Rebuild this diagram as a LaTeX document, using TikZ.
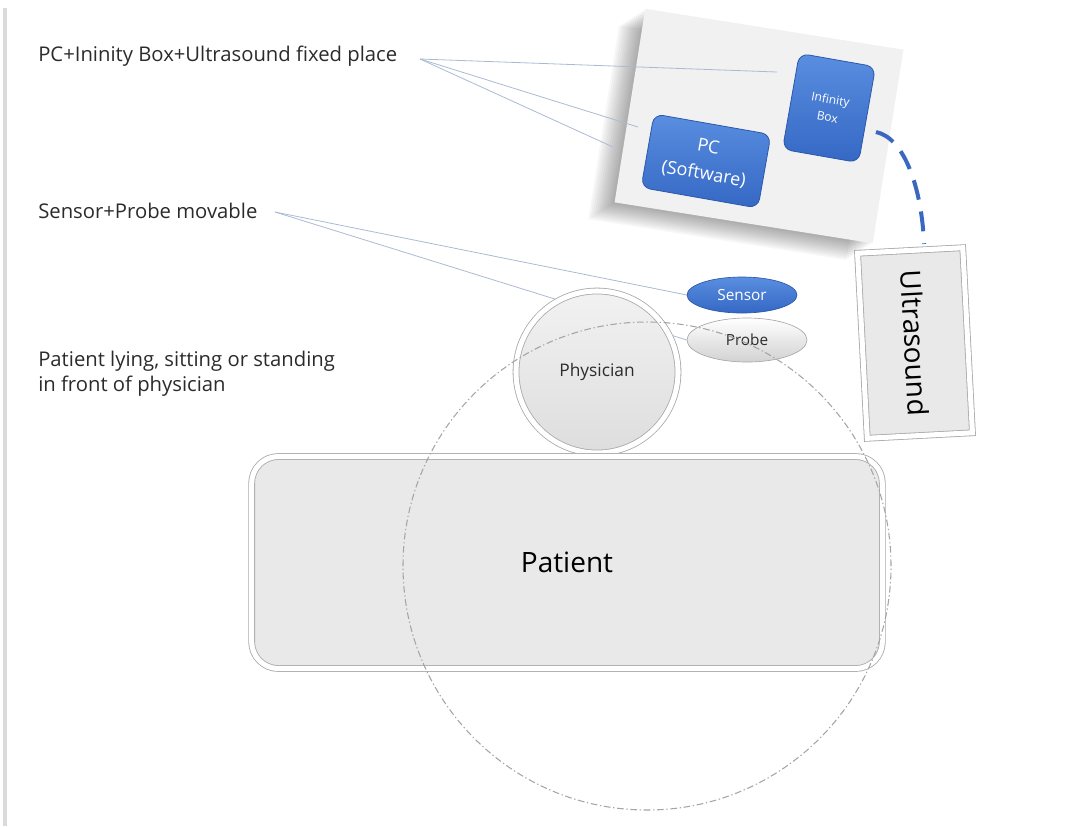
\documentclass[tikz,border=0pt]{standalone}
\usepackage{fontspec}
\setmainfont{Open Sans}
\usetikzlibrary{shapes.geometric,calc}
\definecolor{txt}{HTML}{2B2B2B}
\definecolor{callc}{HTML}{A9BBD3}
\definecolor{boxblue}{HTML}{3468C4}
\definecolor{boxbluelt}{HTML}{5A8EE0}
\definecolor{boxbluedk}{HTML}{2B58AC}
\definecolor{panelc}{HTML}{F1F1F1}
\definecolor{greyfill}{HTML}{E9E9E9}
\definecolor{rimc}{HTML}{A8A8A8}
\definecolor{dashc}{HTML}{A5A5A5}
\definecolor{cablec}{HTML}{3A68C0}
\definecolor{barc}{HTML}{DADADA}
\begin{document}
\begin{tikzpicture}[x=0.75pt,y=-0.75pt,
  lbl/.style={font=\fontsize{15.2}{18.8}\selectfont, text=txt, inner sep=0pt, align=left},
  callout/.style={draw=callc, line width=0.6pt},
  bluebox/.style={draw=boxbluedk, line width=0.6pt, top color=boxbluelt, bottom color=boxblue,
     rounded corners=7pt, inner sep=2pt, text=white, align=center},
  rimmed/.style={draw=rimc, line width=0.6pt, double=white, double distance=3.8pt, fill=greyfill},
  panelbox/.style={rectangle, minimum width=196pt, minimum height=147pt, rotate=-9, inner sep=0pt},
  cable/.style={draw=cablec, line width=3pt, dash pattern=on 15pt off 9pt},
  reach/.style={draw=dashc, line width=0.8pt, dash pattern=on 5pt off 2pt on 1pt off 2pt}]
\useasboundingbox (0,0) rectangle (1070,826);
% left bar
\fill[barc] (3,8) rectangle (7,826);

% panel shadow and panel
\foreach \i in {1,...,12}
  \node[panelbox, fill=black, opacity=0.03] at (759-2.2*\i, 126+1.4*\i) {};
\node[panelbox, fill=panelc] (panel) at (759,126) {};

% callout lines
\coordinate (fixo) at (420,59);
\coordinate (fixa) at (777,72);
\coordinate (fixb) at (638,127);
\coordinate (fixc) at (613,147);
\coordinate (movo) at (275,212);
\draw[callout] (fixo) -- (fixa);
\draw[callout] (fixo) -- (fixb);
\draw[callout] (fixo) -- (fixc);

% texts
\node[lbl, anchor=base west] (tfix) at (38,61) {PC+Ininity Box+Ultrasound fixed place};
\node[lbl, anchor=base west] (tmov) at (38,218) {Sensor+Probe movable};
\node[lbl, anchor=north west] (tpat) at (38,351) {Patient lying, sitting or standing\\in front of physician};

% boxes
\node[bluebox, minimum width=58pt, minimum height=73pt, rotate=-10,
      font=\fontsize{9}{13.5}\selectfont] (inf) at (829,108) {Infinity\\Box};
\node[bluebox, minimum width=89pt, minimum height=56pt, rotate=-10,
      font=\fontsize{13.5}{20.5}\selectfont] (pc) at (706,161) {PC\\(Software)};

% ultrasound
\node[rimmed, rectangle, minimum width=139pt, minimum height=79pt, rotate=-87, inner sep=0pt,
      font=\fontsize{21}{26}\selectfont, text=black] (us) at (915,343) {Ultrasound};
\coordinate (cabs) at (876,132);
\coordinate (cabe) at (924,244);
\draw[cable] (cabs) .. controls (905,138) and (922,190) .. (cabe);

% callouts for sensor/probe (behind shapes)
\node[ellipse, minimum width=90pt, minimum height=33pt, inner sep=0pt] (probe) at (747,340) {};
\node[ellipse, minimum width=82.5pt, minimum height=27pt, inner sep=0pt] (sensor) at (742,295) {};
\draw[callout] (movo) -- (sensor.west);
\draw[callout] (movo) -- (probe.west);

% physician
\node[rimmed, circle, minimum size=121.5pt, inner sep=0pt, top color=greyfill!60, bottom color=greyfill!95!black,
      font=\fontsize{13}{15}\selectfont, text=txt] (phys) at (597,372) {Physician};

% probe and sensor
\node[ellipse, minimum width=90pt, minimum height=33pt, inner sep=0pt, draw=rimc, line width=0.5pt,
      top color=white, bottom color=greyfill!90!black, font=\fontsize{11.5}{13}\selectfont, text=txt] at (probe) {Probe};
\node[ellipse, minimum width=82.5pt, minimum height=27pt, inner sep=0pt, draw=boxbluedk, line width=0.5pt,
      top color=boxbluelt, bottom color=boxblue, font=\fontsize{11.5}{13}\selectfont, text=white] at (sensor) {Sensor};

% patient
\node[rimmed, rectangle, rounded corners=20pt, minimum width=473pt, minimum height=159pt, inner sep=0pt,
      font=\fontsize{21}{25}\selectfont, text=black] (pat) at (567,562.5) {Patient};

% reach circle
\node[circle, minimum size=366pt, inner sep=0pt, reach] (reach) at (647,566) {};
\end{tikzpicture}
\end{document}
